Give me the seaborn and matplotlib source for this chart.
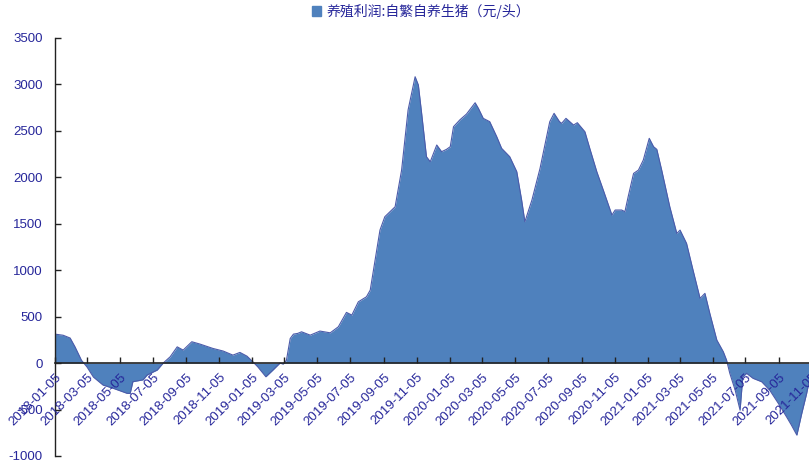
import matplotlib
matplotlib.use("Agg")
import matplotlib.pyplot as plt
import seaborn as sns
import pandas as pd
from matplotlib.patches import Patch

# ---- data ----
dates = [
    "2018-01-05", "2018-01-20", "2018-02-02", "2018-02-11", "2018-02-23", "2018-03-05",
    "2018-03-17", "2018-04-04", "2018-04-22", "2018-05-11", "2018-05-18", "2018-05-24",
    "2018-05-29", "2018-06-17", "2018-06-24", "2018-07-05", "2018-07-13", "2018-07-24",
    "2018-08-06", "2018-08-19", "2018-08-30", "2018-09-15", "2018-09-30", "2018-10-24",
    "2018-11-12", "2018-11-30", "2018-12-13", "2018-12-26", "2019-01-06", "2019-01-15",
    "2019-01-30", "2019-02-12", "2019-02-25", "2019-03-03", "2019-03-09", "2019-03-16",
    "2019-03-22", "2019-03-30", "2019-04-06", "2019-04-22", "2019-05-10", "2019-05-29",
    "2019-06-13", "2019-06-28", "2019-07-08", "2019-07-20", "2019-08-04", "2019-08-11",
    "2019-08-20", "2019-08-29", "2019-09-07", "2019-09-26", "2019-10-08", "2019-10-20",
    "2019-11-02", "2019-11-08", "2019-11-14", "2019-11-23", "2019-11-30", "2019-12-12",
    "2019-12-21", "2019-12-30", "2020-01-06", "2020-01-12", "2020-01-24", "2020-02-05",
    "2020-02-21", "2020-02-27", "2020-03-07", "2020-03-19", "2020-04-01", "2020-04-10",
    "2020-04-25", "2020-05-08", "2020-05-17", "2020-05-23", "2020-06-05", "2020-06-20",
    "2020-07-08", "2020-07-16", "2020-07-26", "2020-07-30", "2020-08-07", "2020-08-21",
    "2020-08-28", "2020-09-11", "2020-09-20", "2020-10-03", "2020-10-15", "2020-10-31",
    "2020-11-06", "2020-11-18", "2020-11-24", "2020-11-30", "2020-12-10", "2020-12-19",
    "2020-12-28", "2021-01-08", "2021-01-16", "2021-01-22", "2021-01-31", "2021-02-15",
    "2021-02-28", "2021-03-06", "2021-03-18", "2021-03-30", "2021-04-12", "2021-04-21",
    "2021-04-30", "2021-05-13", "2021-05-25", "2021-05-31", "2021-06-06", "2021-06-16",
    "2021-06-25", "2021-06-30", "2021-07-07", "2021-07-19", "2021-08-04", "2021-08-19",
    "2021-09-04", "2021-09-19", "2021-09-28", "2021-10-08", "2021-10-17", "2021-10-26",
    "2021-10-30",
]
profit = [
    312, 300, 270, 175, 30, -40,
    -150, -237, -270, -310, -325, -327,
    -200, -180, -130, -97, -75, 0,
    68, 175, 140, 230, 205, 158,
    130, 86, 115, 75, 14, -40,
    -147, -75, 0, -10, 30, 265,
    312, 320, 337, 301, 345, 326,
    391, 546, 517, 660, 714, 786,
    1109, 1432, 1576, 1683, 2078, 2725,
    3083, 2994, 2692, 2222, 2168, 2348,
    2276, 2301, 2330, 2545, 2620, 2681,
    2803, 2743, 2635, 2599, 2437, 2312,
    2222, 2061, 1755, 1522, 1755, 2096,
    2599, 2689, 2599, 2581, 2635, 2563,
    2588, 2491, 2312, 2061, 1863, 1594,
    1648, 1648, 1630, 1791, 2042, 2078,
    2186, 2420, 2330, 2301, 2078, 1683,
    1396, 1432, 1289, 1001, 697, 751,
    536, 248, 122, 32, -110, -293,
    -507, -147, -110, -164, -201, -293,
    -436, -579, -668, -775, -543, -328,
    -215,
]
tick_dates = [
    "2018-01-05", "2018-03-05", "2018-05-05", "2018-07-05", "2018-09-05", "2018-11-05",
    "2019-01-05", "2019-03-05", "2019-05-05", "2019-07-05", "2019-09-05", "2019-11-05",
    "2020-01-05", "2020-03-05", "2020-05-05", "2020-07-05", "2020-09-05", "2020-11-05",
    "2021-01-05", "2021-03-05", "2021-05-05", "2021-07-05", "2021-09-05", "2021-11-05",
]
y_ticks = [-1000, -500, 0, 500, 1000, 1500, 2000, 2500, 3000, 3500]
series_name = "养殖利润:自繁自养生猪（元/头）"

df = pd.DataFrame({"date": pd.to_datetime(dates), "value": profit})

sns.set_theme(style="white")
plt.rcParams["font.family"] = ["Noto Sans CJK SC", "DejaVu Sans"]

fill_color = "#4F81BD"
edge_color = "#4B5BAA"
text_color = "#26269A"
num_font = ["Liberation Sans", "DejaVu Sans"]

fig = plt.figure(figsize=(8.09, 4.65), dpi=100)
ax = fig.add_axes([55 / 809, 1 - 456 / 465, (812 - 55) / 809, (456 - 38) / 465])

ax.fill_between(df["date"], df["value"], 0, color=fill_color, linewidth=0, zorder=1)
sns.lineplot(data=df, x="date", y="value", ax=ax, color=edge_color, linewidth=0.8, zorder=1.2)

# spines first (set_position resets the ticks)
ax.spines["top"].set_visible(False)
ax.spines["right"].set_visible(False)
ax.spines["bottom"].set_position(("data", 0))
ax.spines["bottom"].set_color("#222222")
ax.spines["bottom"].set_linewidth(1.2)
ax.spines["bottom"].set_zorder(4)
ax.spines["left"].set_color("#222222")
ax.spines["left"].set_linewidth(1.0)

ax.set_xlim(pd.Timestamp("2018-01-05"), pd.Timestamp("2021-11-05"))
ax.set_ylim(-1000, 3500)
ax.set_xlabel("")
ax.set_ylabel("")

ax.set_yticks(y_ticks)
ax.set_yticklabels([str(v) for v in y_ticks])
ax.set_xticks(pd.to_datetime(tick_dates))
ax.set_xticklabels(tick_dates)
ax.tick_params(axis="y", direction="in", length=4, width=1, color="#222222", pad=9, left=True,
               labelsize=9.5, labelcolor=text_color)
ax.tick_params(axis="x", direction="in", length=4, width=1, color="#222222", pad=6, bottom=True,
               labelsize=9.5, labelcolor=text_color, labelrotation=45)
plt.setp(ax.get_yticklabels(), family=num_font)
plt.setp(ax.get_xticklabels(), ha="right", rotation_mode="anchor", family=num_font)
ax.set_axisbelow(False)
ax.xaxis.set_zorder(5)
ax.yaxis.set_zorder(5)
ax.grid(False)

handles = [Patch(facecolor=fill_color, edgecolor=fill_color, label=series_name)]
fig.legend(handles=handles, loc="center", bbox_to_anchor=(421 / 809, 1 - 11 / 465),
           frameon=False, fontsize=10, labelcolor=text_color, handlelength=0.7,
           handleheight=0.7, handletextpad=0.4, borderaxespad=0, borderpad=0)

fig.savefig("out.png", dpi=100)
